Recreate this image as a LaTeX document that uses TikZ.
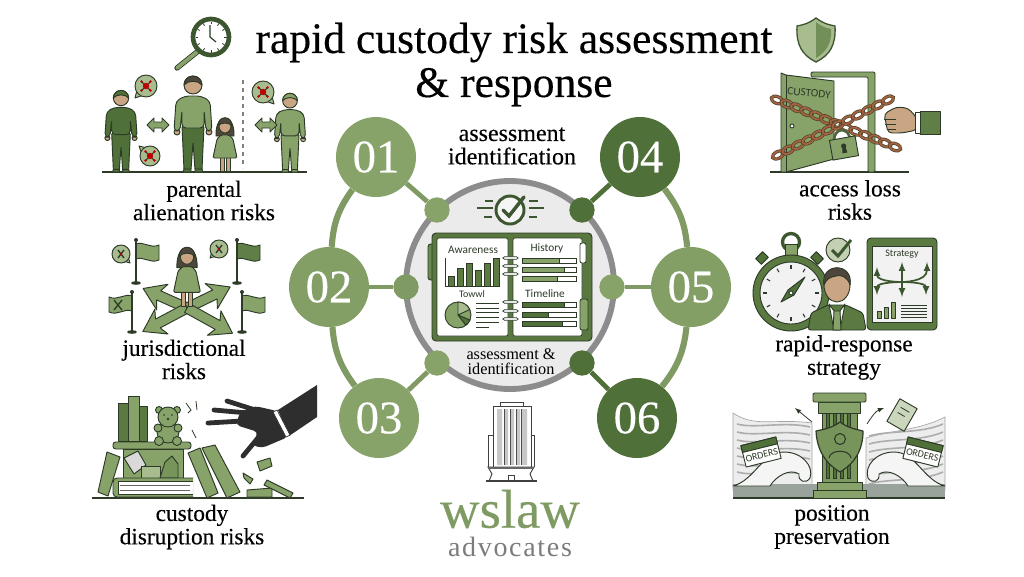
\documentclass[tikz,border=0pt]{standalone}
\usepackage{fontspec}
\setmainfont{Liberation Serif}
\setsansfont{Carlito}
\newfontfamily\serifheavy[FakeBold=0.3]{Liberation Serif}
\usetikzlibrary{positioning}
\definecolor{gmid}{HTML}{88A36A}
\definecolor{gline}{HTML}{7F9A62}
\definecolor{gdark}{HTML}{4F7038}
\definecolor{gdeep}{HTML}{3C5630}
\definecolor{gpale}{HTML}{A9BC8F}
\definecolor{outl}{HTML}{2C3A27}
\definecolor{skin}{HTML}{C9A583}
\definecolor{hairc}{HTML}{4E463C}
\definecolor{rust}{HTML}{A5623F}
\definecolor{graytxt}{HTML}{7C7C7C}
\definecolor{seagray}{HTML}{9AA39B}
\tikzset{
  numnode/.style={circle,minimum size=60pt,inner sep=0pt,text=white,font=\serifheavy\fontsize{35}{35}\selectfont},
  dotnode/.style={circle,minimum size=19pt,inner sep=0pt},
  spoke/.style={line width=3.6pt},
  rim/.style={line width=4.6pt,gline},
  lab/.style={align=center,inner sep=0pt,font=\serifheavy\fontsize{17.5}{17.5}\selectfont},
  tiny/.style={inner sep=0pt,font=\sffamily\fontsize{8.5}{8.5}\selectfont,text=outl},
  ol/.style={draw=outl,line width=0.7pt,line join=round},
  ground/.style={draw=outl,line width=0.8pt},
}
% figures, all drawn from the feet upwards
\newcommand{\manfig}[6]{%
  \begin{scope}[shift={(#1,#2)},scale=#3]
    \draw[ol,fill=#5,rounded corners=1pt] (-11,-46) -- (11,-46) -- (9,-2) -- (2,-2) -- (0,-30) -- (-2,-2) -- (-9,-2) -- cycle;
    \draw[ol,fill=#5] (-9,-3) -- (-2,-3) -- (-2,0) -- (-10,0) -- cycle (9,-3) -- (2,-3) -- (2,0) -- (10,0) -- cycle;
    \draw[ol,fill=skin] (-16,-40) circle (3) (16,-40) circle (3);
    \draw[ol,fill=#4,rounded corners=3pt] (-8,-76) -- (8,-76) -- (17,-71) -- (19,-41) -- (13,-41) -- (11,-62) -- (11,-44) -- (-11,-44) -- (-11,-62) -- (-13,-41) -- (-19,-41) -- (-17,-71) -- cycle;
    \draw[ol,fill=skin] (0,-87) circle (9);
    \draw[ol,fill=#6] (-9,-87) arc (180:360:9) .. controls (5,-92) and (-5,-92) .. (-9,-87) -- cycle;
  \end{scope}}
\newcommand{\childfig}[3]{%
  \begin{scope}[shift={(#1,#2)},scale=#3]
    \draw[ol,fill=hairc] (-9,-36) .. controls (-10,-60) and (10,-60) .. (9,-36) -- cycle;
    \draw[ol,fill=skin] (-5,-15) rectangle (-1,-1) (1,-15) rectangle (5,-1);
    \draw[ol,fill=skin] (-7,-34) -- (-11,-18) -- (-9,-17) -- (-5,-30) -- cycle (7,-34) -- (11,-18) -- (9,-17) -- (5,-30) -- cycle;
    \draw[ol,fill=gmid,rounded corners=1pt] (-4,-37) -- (4,-37) -- (8,-33) -- (12,-14) -- (-12,-14) -- (-8,-33) -- cycle;
    \draw[ol,fill=skin] (0,-46) ellipse (6 and 7);
    \draw[ol,fill=hairc] (-7,-46) .. controls (-7,-57) and (7,-57) .. (7,-46) .. controls (4,-50) and (-4,-50) .. (-7,-46) -- cycle;
  \end{scope}}
% x, y, radius, tail x, tail y, inner mark
\newcommand{\bubblefig}[6]{%
  \begin{scope}[shift={(#1,#2)}]
    \draw[ol,fill=gpale] (#4,#5) -- (#4*0.35+#5*0.35,#5*0.35-#4*0.35) -- (#4*0.35-#5*0.35,#5*0.35+#4*0.35) -- cycle;
    \draw[ol,fill=gpale] (0,0) circle (#3);
    \fill[gpale] (#4*0.6+#5*0.2,#5*0.6-#4*0.2) -- (#4*0.6-#5*0.2,#5*0.6+#4*0.2) -- (0,0) -- cycle;
    #6
  \end{scope}}
\newcommand{\virusmark}{%
  \draw[outl,line width=0.8pt] (-4.5,-4.5) -- (4.5,4.5) (-4.5,4.5) -- (4.5,-4.5);
  \fill[red!75!black] (0,0) circle (3.2) (-4.5,-4.5) circle (1.3) (4.5,4.5) circle (1.3) (-4.5,4.5) circle (1.3) (4.5,-4.5) circle (1.3);}
\newcommand{\crossmark}{%
  \draw[outl,line width=1pt] (-3,-4) -- (3,4) (-3,4) -- (3,-4);
  \fill[red!70!black] (0,0) circle (1.3);}
\newcommand{\swaparrow}[2]{%
  \draw[ol,fill=gmid] (#1-11,#2) -- (#1-4,#2-7) -- (#1-4,#2-3) -- (#1+4,#2-3) -- (#1+4,#2-7) -- (#1+11,#2) -- (#1+4,#2+7) -- (#1+4,#2+3) -- (#1-4,#2+3) -- (#1-4,#2+7) -- cycle;}
\newcommand{\flagfig}[5]{%
  \begin{scope}[shift={(#1,#2)},xscale=#4]
    \draw[ol,fill=#5] (0,4) .. controls (8,1) and (14,9) .. (23,5) -- (23,20) .. controls (14,24) and (8,16) .. (0,19) -- cycle;
    \draw[outl,line width=1.3pt] (0,0) -- (0,#3);
    \fill[outl] (0,0) circle (2) (0,#3) ellipse (5 and 1.8);
  \end{scope}}
\newcommand{\fatarrow}[2]{%
  \begin{scope}[shift={(187,308)},rotate=#1]
    \draw[ol,fill=gmid] (0,-5) -- (#2-17,-5) -- (#2-21,-14) -- (#2,0) -- (#2-21,14) -- (#2-17,5) -- (0,5) -- cycle;
  \end{scope}}
\newcommand{\chainfig}[5]{%
  \pgfmathsetmacro{\chainang}{atan2(#4-#2,#3-#1)}
  \foreach \i in {0,...,#5}{
    \pgfmathsetmacro{\cx}{#1+\i/#5*(#3-#1)}
    \pgfmathsetmacro{\cy}{#2+\i/#5*(#4-#2)}
    \begin{scope}[shift={(\cx,\cy)},rotate=\chainang]
      \draw[draw=outl!70!rust,line width=2.4pt] (0,0) ellipse (6 and 3.4);
      \draw[draw=rust,line width=1.3pt] (0,0) ellipse (6 and 3.4);
    \end{scope}}}
\newcommand{\barfig}[3]{%
  \draw[outl,line width=0.5pt,fill=white] (522,#1-2.5) rectangle (576,#1+2.5);
  \draw[outl,line width=0.5pt,fill=#3] (522,#1-2.5) rectangle (522+54*#2,#1+2.5);}

\begin{document}
\begin{tikzpicture}[x=0.75pt,y=0.75pt,yscale=-1,xscale=1]
%set diagram to the full frame
\useasboundingbox (0,0) rectangle (1024,576);
\fill[white] (0,0) rectangle (1024,576);

% Text Node
\node (title) [align=center,inner sep=0pt,font=\serifheavy\fontsize{32.7}{33}\selectfont] at (514,64.5) {rapid custody risk assessment\\\& response};

%Shape: Circle centre
\node (hub) [circle,minimum size=156pt,inner sep=0pt,draw=gray!90,line width=4.4pt,fill=black!8] at (510,285) {};

%Shape: numbered rounds
\node (n01) [numnode,fill=gmid] at (376,157) {01};
\node (n02) [numnode,fill=gmid!92!gdark] at (329,287) {02};
\node (n03) [numnode,fill=gmid] at (379,418) {03};
\node (n04) [numnode,fill=gdark] at (640,157) {04};
\node (n05) [numnode,fill=gmid!92!gdark] at (691,287) {05};
\node (n06) [numnode,fill=gdark] at (637,418) {06};
\node (d01) [dotnode,fill=gmid] at (437,210) {};
\node (d02) [dotnode,fill=gmid!85!gdark] at (406,287) {};
\node (d03) [dotnode,fill=gmid] at (437,363) {};
\node (d04) [dotnode,fill=gdark] at (582,210) {};
\node (d05) [dotnode,fill=gmid] at (612,287) {};
\node (d06) [dotnode,fill=gdark] at (582,363) {};

\draw[spoke,gline] (n01) -- (d01);
\draw[spoke,gline] (n02) -- (d02);
\draw[spoke,gline] (n03) -- (d03);
\draw[spoke,gdark] (n04) -- (d04);
\draw[spoke,gline] (n05) -- (d05);
\draw[spoke,gdark] (n06) -- (d06);
\draw[rim] (n01) to[bend left=16] (n02);
\draw[rim] (n02) to[bend left=16] (n03);
\draw[rim] (n04) to[bend right=16] (n05);
\draw[rim] (n05) to[bend right=16] (n06);

% Text Node
\node (toplab) [lab,font=\serifheavy\fontsize{18}{17.5}\selectfont] at (512,146) {assessment\\identification};
\node (hublab) [align=center,inner sep=0pt,font=\fontsize{12.2}{11.5}\selectfont] at (511,361.5) {assessment \&\\identification};

%Shape: check badge
\draw[gdeep,line width=1.6pt] (477,208) -- (493,208) (485,201) -- (493,201) (484,217) -- (492,217) (529,201) -- (538,201) (529,208) -- (544,208) (529,217) -- (537,217);
\draw[draw=gdeep,line width=2.2pt,fill=black!4] (510,210) circle (14);
\draw[gdeep,line width=2.6pt,line cap=round] (503,210) -- (509,216) -- (524,197);

%Shape: open binder
\draw[draw=outl,fill=gmid!50!gdark,rounded corners=2pt,line width=0.7pt] (428,244) rectangle (440,280);
\draw[draw=outl,fill=gdark!85!gmid,rounded corners=3pt,line width=0.7pt] (432,233) rectangle (592,341);
\draw[draw=outl,fill=white,rounded corners=1.5pt,line width=0.5pt] (437,238) rectangle (508,336);
\draw[draw=outl,fill=white,rounded corners=1.5pt,line width=0.5pt] (513,238) rectangle (582,336);
\draw[draw=outl,fill=white,rounded corners=1.5pt,line width=0.6pt] (580,243) rectangle (586,263);
\draw[draw=outl,fill=gmid,rounded corners=1.5pt,line width=0.6pt] (580,299) rectangle (588,330);
\node (pgawareness) [tiny] at (473,250) {Awareness};
\node (pghistory) [tiny] at (547,249) {History};
\node (pgtowwl) [tiny,font=\sffamily\fontsize{7.5}{7.5}\selectfont] at (472,294) {Towwl};
\node (pgtimeline) [tiny] at (545,294) {Timeline};
\draw[outl,line width=0.5pt] (445,258) -- (445,286) -- (499,286);
\foreach \bx/\by in {448/276,457/268,466/263,475/270,484/263,493/258}{
  \draw[draw=outl,fill=gdark!80!gmid,line width=0.3pt] (\bx,\by) rectangle (\bx+6,286);}
\draw[ol,fill=gmid] (458,315) circle (13);
\draw[ol,fill=gpale] (458,315) -- (458,302) arc (-90:-25:13) -- cycle;
\draw[ol,fill=gdark] (458,315) -- (470,320) arc (25:55:13) -- cycle;
\foreach \ly in {303,308,312,317,322}{
  \draw[outl,line width=0.5pt] (476,\ly) -- (499,\ly);}
\draw[outl,line width=0.5pt] (476,327) -- (489,327);
\barfig{261}{0.7}{gmid}
\barfig{270}{0.78}{gmid}
\barfig{279}{0.65}{gmid}
\barfig{305}{0.78}{gdark}
\barfig{315}{0.48}{gdark}
\barfig{324}{0.75}{gdark}
\foreach \ry in {258,266,274,302,311,319}{
  \draw[draw=outl,fill=white,line width=0.5pt,rounded corners=1pt] (503,\ry-1.3) rectangle (518,\ry+1.3);}

%Shape: clock lens
\draw[draw=outl,line width=4pt,line cap=round] (197,52) -- (177,68);
\draw[draw=gmid,line width=2.8pt,line cap=round] (197,52) -- (177,68);
\draw[draw=gdeep,line width=3.5pt,fill=white] (211,37) circle (18);
\foreach \a in {0,30,...,330}{
  \draw[outl,line width=0.6pt] (211,37) ++(\a:13) -- ++(\a:2.5);}
\draw[outl,line width=0.9pt] (210,37) -- (210,25) (210,37) -- (216,42);

%Shape: shield top right
\draw[draw=gdeep,line width=1pt,fill=gpale] (816,18) .. controls (824,24) and (830,25) .. (835,26) .. controls (836,45) and (830,55) .. (816,62) .. controls (802,55) and (796,45) .. (797,26) .. controls (802,25) and (808,24) .. (816,18) -- cycle;
\fill[gmid!60!gdark] (816,22) .. controls (822,27) and (827,28) .. (831,29) .. controls (832,44) and (826,52) .. (816,58) -- cycle;

%Shape: parental group
\draw[ground] (102,172) -- (307,172);
\manfig{121}{172}{0.85}{gdark}{gdark}{gdark}
\manfig{193}{172}{1}{gmid}{gdark}{hairc}
\childfig{225}{172}{1}
\manfig{290}{172}{0.82}{gmid}{gmid}{gmid}
\draw[draw=gray,dashed,line width=0.9pt] (243,80) -- (243,168);
\swaparrow{158}{125}
\swaparrow{266}{125}
\bubblefig{146}{86}{11}{-11}{12}{\virusmark}
\bubblefig{150}{156}{10}{-11}{-10}{\virusmark}
\bubblefig{263}{92}{11}{11}{12}{\virusmark}
% Text Node
\node (parental) [lab] at (204,200.5) {parental\\alienation risks};

%Shape: jurisdiction group
\fatarrow{-156}{48}
\fatarrow{-26}{48}
\fatarrow{152}{50}
\fatarrow{29}{52}
\flagfig{136}{240}{43}{1}{gmid}
\flagfig{237}{240}{43}{1}{gdark!70!gmid}
\flagfig{132}{292}{40}{-1}{gmid}
\flagfig{242}{292}{40}{1}{gmid}
\childfig{187}{308}{1.12}
\draw[outl,line width=1pt] (114,300) -- (122,310) (114,310) -- (122,300);
\bubblefig{121}{254}{9}{9}{9}{\crossmark}
\bubblefig{219}{249}{9}{-9}{9}{\crossmark}
% Text Node
\node (jurisdict) [lab] at (184,359.5) {jurisdictional\\risks};

%Shape: disruption group
\draw[ground] (92,498) -- (304,498);
\draw[ol,fill=gdark!80!gmid] (118,403) rectangle (128,441);
\draw[ol,fill=gmid] (128,396) rectangle (139,441);
\draw[ol,fill=gdark!80!gmid] (139,406) rectangle (147,441);
\draw[ol,fill=gmid,rounded corners=2pt] (113,442) rectangle (191,449);
\draw[ol,fill=gmid] (123,449) rectangle (183,478);
\draw[ol,fill=black!15] (124,458) -- (138,451) -- (146,465) -- (134,474) -- cycle;
\draw[ol,fill=gpale] (141,466) rectangle (160,478);
\draw[ol,fill=gmid!70!gdark] (165,462) -- (172,456) -- (178,464) -- (178,478) -- (160,478) -- cycle;
\draw[ol,fill=gmid,rounded corners=3pt] (193,478) -- (113,478) -- (113,497) -- (193,497);
\draw[ol,fill=white] (193,481) -- (118,481) -- (118,494) -- (193,494);
\draw[black!60,line width=0.5pt] (120,485) -- (190,485) (120,490) -- (190,490);
\draw[ol,fill=gmid] (168,432) ellipse (11 and 11);
\draw[ol,fill=gmid] (158,428) circle (4) (178,428) circle (4) (159,441) circle (4.5) (177,441) circle (4.5);
\draw[ol,fill=gmid] (159,410) circle (3.5) (177,410) circle (3.5);
\draw[ol,fill=gmid] (168,417) circle (10);
\fill[outl] (164,415) circle (0.9) (172,415) circle (0.9) (168,419) circle (1.3);
\draw[ol,fill=gmid] (107,452) -- (120,457) -- (108,496) -- (98,492) -- cycle;
\draw[ol,fill=gmid] (188,453) -- (200,448) -- (218,493) -- (207,498) -- cycle;
\draw[ol,fill=gmid] (202,448) -- (215,445) -- (240,492) -- (227,498) -- cycle;
\draw[ol,fill=gmid] (257,462) -- (270,458) -- (272,466) -- (260,471) -- cycle;
\draw[ol,fill=gmid] (243,473) -- (253,479) -- (250,484) -- (244,478) -- cycle;
\draw[ol,fill=gmid] (247,490) -- (272,488) -- (272,497) -- (247,497) -- cycle;
\draw[ol,fill=gmid] (267,480) -- (293,493) -- (290,498) -- (264,485) -- cycle;
\draw[outl,line width=0.6pt] (186,403) -- (191,410) -- (188,413) (196,401) -- (197,410) (192,430) -- (196,438);
%Shape: reaching hand
\fill[black!82,rounded corners=3pt] (277,411) -- (255,406) -- (240,412) -- (236,425) -- (258,432) -- (252,445) -- (262,448) -- (288,437) -- cycle;
\draw[black!82,line width=3.6pt,line cap=round] (252,409) -- (227,401) (248,413) -- (214,410) (242,421) -- (208,423) (262,433) -- (243,456);
\fill[black!82] (278,410) -- (317,385) -- (317,417) -- (289,436) -- cycle;
\draw[draw=black!82,fill=white,line width=0.5pt] (273,412) -- (277,410) -- (290,435) -- (286,437) -- cycle;
% Text Node
\node (disrupt) [lab] at (192,527) {custody\\disruption risks};

%Shape: locked door
\draw[ground] (770,172) -- (909,172);
\draw[draw=outl,fill=gmid,line width=0.7pt,rounded corners=1pt] (811,72) -- (875,72) -- (875,172) -- (868,172) -- (868,77) -- (811,77) -- cycle;
\draw[ol,fill=gmid] (781,73) -- (786,75) -- (834,81) -- (834,159) -- (786,172) -- (781,172) -- cycle;
\draw[outl,line width=0.5pt] (786,75) -- (786,172);
\node (custody) [inner sep=0pt,rotate=-5,font=\sffamily\fontsize{8.5}{8.5}\selectfont,text=outl] at (809,93) {CUSTODY};
\draw[ol,fill=white] (792,126) circle (2);
\chainfig{777}{100}{895}{147}{12}
\chainfig{778}{155}{888}{100}{11}
\draw[outl!60!gmid,line width=2pt] (834,140) arc (180:360:8 and 10);
\begin{scope}[shift={(844,148)},rotate=-10]
\draw[ol,fill=gmid] (-13,-10) rectangle (13,10);
\fill[outl] (0,-2) circle (2.6);
\fill[outl] (-1.5,-2) -- (1.5,-2) -- (2.5,5) -- (-2.5,5) -- cycle;
\end{scope}
\draw[ol,fill=skin,rounded corners=3pt] (884,114) -- (896,107) -- (908,108) -- (917,118) -- (917,130) -- (902,133) -- (888,133) -- cycle;
\draw[outl,line width=0.5pt] (884,119) -- (896,119) (885,124) -- (896,124) (887,129) -- (896,129);
\draw[ol,fill=white] (915,112) rectangle (920,133);
\draw[ol,fill=gdark!70!gmid] (920,111) rectangle (940,134);
% Text Node
\node (access) [lab] at (850,200) {access loss\\risks};

%Shape: stopwatch
\draw[draw=gdeep,line width=2.5pt] (791,242) circle (8.5);
\draw[ol,fill=gmid] (785,244) rectangle (797,256);
\begin{scope}[shift={(762,258)},rotate=-45]
\draw[ol,fill=gdark] (-5,-4) rectangle (5,4);
\end{scope}
\begin{scope}[shift={(817,258)},rotate=45]
\draw[ol,fill=gdark] (-5,-4) rectangle (5,4);
\end{scope}
\draw[ol,fill=gdark!80!gmid] (791,293) circle (38);
\draw[ol,fill=black!5] (791,293) circle (31);
\foreach \a in {0,30,...,330}{
  \draw[outl,line width=0.8pt] (791,293) ++(\a:24) -- ++(\a:4);}
\draw[ol,fill=gdark] (781,302) -- (788,290) -- (805,277) -- (794,295) -- cycle;
\draw[ol,fill=white] (791,293) circle (2);
\draw[ol,fill=gpale!70!white] (838,250) circle (12);
\draw[gdeep,line width=2.2pt] (832,250) -- (838,256) -- (851,240);
%Shape: lawyer
\draw[ol,fill=gdark!80!gmid,rounded corners=2pt] (808,330) -- (811,313) -- (828,305) -- (846,305) -- (863,313) -- (866,330) -- cycle;
\draw[ol,fill=white] (829,304) -- (837,315) -- (845,304) -- (840,330) -- (834,330) -- cycle;
\draw[ol,fill=gmid] (834,311) -- (840,311) -- (841,330) -- (833,330) -- cycle;
\draw[ol,fill=skin] (837,285) ellipse (13 and 17);
\draw[ol,fill=hairc] (824,285) .. controls (820,262) and (854,262) .. (850,285) .. controls (848,277) and (840,274) .. (836,276) .. controls (830,277) and (826,279) .. (824,285) -- cycle;
%Shape: tablet
\draw[ol,fill=gdark!80!gmid,rounded corners=3pt] (867,238) rectangle (937,330);
\draw[ol,fill=black!5] (872,246) rectangle (932,322);
\node (tabstrategy) [tiny,font=\sffamily\fontsize{7.5}{7.5}\selectfont] at (902,254) {Strategy};
\coordinate (tabcore) at (902,282);
\foreach \tx/\ty in {877/267,902/262,927/262,877/295,902/297,926/295}{
  \coordinate (tabtip) at (\tx,\ty);
  \draw[-latex,gdeep,line width=1.3pt] (tabcore) .. controls (902,282) and (\tx,282) .. (tabtip);}
\draw[ol,fill=gmid] (877,311) rectangle (881,318) (884,307) rectangle (888,318) (891,302) rectangle (895,318);
\foreach \ly in {305,308,311,314,317}{
  \draw[outl,line width=0.7pt] (901,\ly) -- (927,\ly);}
% Text Node
\node (rapid) [lab] at (844,357.5) {rapid-response\\strategy};

%Shape: papers and waves
\draw[draw=black!35,fill=black!7,line width=0.5pt] (733,413) .. controls (755,428) and (775,418) .. (812,423) -- (812,490) -- (733,490) -- cycle;
\draw[draw=black!35,fill=black!7,line width=0.5pt] (866,438) .. controls (893,430) and (920,430) .. (945,417) -- (945,490) -- (866,490) -- cycle;
\foreach \wy in {424,432,440,448,456,464,472}{
  \draw[black!32,line width=1.2pt] (737,\wy) .. controls (755,\wy+5) and (785,\wy-3) .. (810,\wy+3);
  \draw[black!32,line width=1.2pt] (869,\wy+12) .. controls (890,\wy+6) and (920,\wy+10) .. (943,\wy);}
\fill[seagray] (733,484) rectangle (945,498);
\draw[ol,fill=black!4] (733,486) .. controls (755,480) and (762,452) .. (784,452) .. controls (802,452) and (814,466) .. (810,478) .. controls (806,484) and (798,482) .. (799,474) .. controls (790,468) and (776,476) .. (770,486) -- cycle;
\draw[ol,fill=black!4] (945,486) .. controls (923,480) and (916,452) .. (894,452) .. controls (876,452) and (864,466) .. (868,478) .. controls (872,484) and (880,482) .. (879,474) .. controls (888,468) and (902,476) .. (908,486) -- cycle;
\draw[draw=outl,line width=0.8pt] (733,498) -- (945,498);
%Shape: column
\draw[ol,fill=gmid!80!gdark] (822,407) rectangle (857,482);
\foreach \cx in {826,833,840,847}{
  \draw[draw=outl,fill=gdark,line width=0.3pt] (\cx,412) rectangle (\cx+3.5,478);}
\draw[ol,fill=gmid] (818,402) rectangle (860,413);
\draw[ol,fill=gmid,rounded corners=1pt] (813,393) rectangle (866,402);
\draw[ol,fill=gmid] (817,482) rectangle (862,490);
\draw[ol,fill=gmid] (813,490) rectangle (866,498);
\draw[ol,fill=gmid!70!gdark,line width=0.9pt] (840,422) .. controls (848,428) and (855,429) .. (863,431) .. controls (863,450) and (855,463) .. (840,472) .. controls (825,463) and (817,450) .. (816,431) .. controls (825,429) and (832,428) .. (840,422) -- cycle;
\draw[draw=outl,line width=0.8pt] (840,439) circle (5.5);
\draw[draw=outl,line width=0.8pt] (829,458) .. controls (830,449) and (850,449) .. (851,458);
%Shape: order cards
\begin{scope}[shift={(761,452)},rotate=-14]
\draw[ol,fill=white] (-18,-11) rectangle (18,11);
\draw[ol,fill=gdark] (-18,-11) rectangle (18,-4);
\node (orderl) [inner sep=0pt,font=\sffamily\fontsize{7.5}{7.5}\selectfont,text=outl,rotate=14] at (0,3) {ORDERS};
\end{scope}
\begin{scope}[shift={(923,452)},rotate=14]
\draw[ol,fill=white] (-18,-11) rectangle (18,11);
\draw[ol,fill=gdark] (-18,-11) rectangle (18,-4);
\node (orderr) [inner sep=0pt,font=\sffamily\fontsize{7.5}{7.5}\selectfont,text=outl,rotate=-14] at (0,3) {ORDERS};
\end{scope}
\begin{scope}[shift={(902,415)},rotate=30]
\draw[ol,fill=gpale!60!white] (-10,-13) rectangle (10,13);
\draw[outl,line width=0.6pt] (-5,-6) -- (5,-6) (-5,0) -- (3,0);
\end{scope}
\draw[-latex,outl,line width=0.6pt] (812,422) -- (795,408);
\draw[-latex,outl,line width=0.6pt] (867,424) .. controls (872,416) and (876,411) .. (884,408);
% Text Node
\node (preserve) [lab] at (832,527) {position\\preservation};

%Shape: tower
\draw[draw=black!75,line width=0.6pt] (500,406) -- (500,402) -- (523,402) -- (523,406);
\draw[draw=black!75,fill=white,line width=0.7pt] (488,467) -- (488,435) -- (493,435) (534,467) -- (534,435) -- (531,435);
\draw[draw=black!75,fill=white,line width=0.7pt] (493,406) -- (531,406) -- (531,467) -- (493,467) -- cycle;
\fill[black!22] (497,409) rectangle (502,465) (505,409) rectangle (508,465) (511,409) rectangle (514,465) (517,409) rectangle (520,465) (522,409) rectangle (527,465);
\foreach \tx in {504,510,516,521}{
  \draw[black!70,line width=0.7pt] (\tx,409) -- (\tx,465);}
\draw[draw=black!75,fill=white,line width=0.7pt] (488,467) -- (534,467) -- (530,474) -- (533,481) -- (489,481) -- (492,474) -- cycle;
\fill[black!60] (488,467) rectangle (534,469);
\draw[draw=black!75,line width=0.6pt] (508,481) -- (508,475) -- (514,475) -- (514,481);
\draw[black!75,line width=0.9pt] (486,481) -- (537,481);
% Text Node
\node (firm) [inner sep=0pt,text=gline,font=\serifheavy\fontsize{41}{41}\selectfont] at (510,509) {wslaw};
\node (firmsub) [inner sep=0pt,text=graytxt,font=\addfontfeature{LetterSpace=6}\fontsize{21}{21}\selectfont] at (510,547) {advocates};
\end{tikzpicture}
\end{document}
